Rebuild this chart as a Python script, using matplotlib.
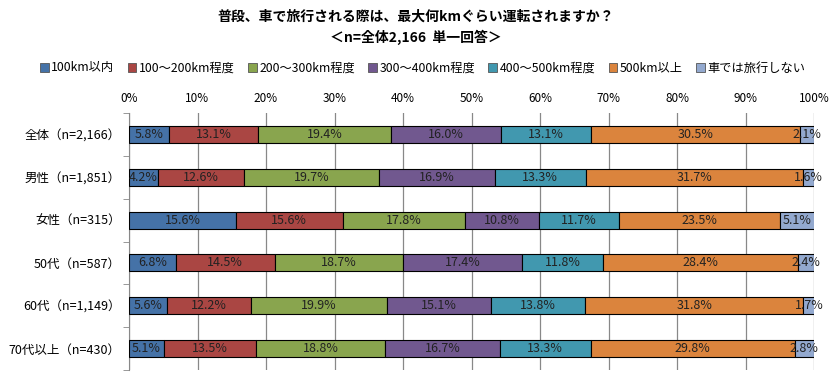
import matplotlib
matplotlib.use("Agg")
import matplotlib.pyplot as plt
from matplotlib.patches import Patch

plt.rcParams['font.family'] = ['Noto Sans CJK JP', 'DejaVu Sans']

# データ
categories = ["全体（n=2,166）", "男性（n=1,851）", "女性（n=315）",
              "50代（n=587）", "60代（n=1,149）", "70代以上（n=430）"]
series_names = ["100km以内", "100～200km程度", "200～300km程度", "300～400km程度",
                "400～500km程度", "500km以上", "車では旅行しない"]
values = [
    [5.8, 4.2, 15.6, 6.8, 5.6, 5.1],
    [13.1, 12.6, 15.6, 14.5, 12.2, 13.5],
    [19.4, 19.7, 17.8, 18.7, 19.9, 18.8],
    [16.0, 16.9, 10.8, 17.4, 15.1, 16.7],
    [13.1, 13.3, 11.7, 11.8, 13.8, 13.3],
    [30.5, 31.7, 23.5, 28.4, 31.8, 29.8],
    [2.1, 1.6, 5.1, 2.4, 1.7, 2.8],
]
colors = ["#4572A7", "#AA4643", "#89A54E", "#71588F", "#4198AF", "#DB843D", "#93A9CF"]

fig = plt.figure(figsize=(8.32, 3.74), dpi=100)
ax = fig.add_axes([129 / 832, 4 / 374, 685 / 832, 257 / 374])

y = list(range(len(categories)))
left = [0.0] * len(categories)
for name, vals, c in zip(series_names, values, colors):
    ax.barh(y, vals, left=left, height=0.4, color=c, edgecolor="black",
            linewidth=0.8, zorder=3)
    for i, v in enumerate(vals):
        ax.text(left[i] + v / 2, y[i], f"{v:.1f}%", ha="center", va="center",
                fontsize=9, color="#222222", zorder=4)
    left = [l + v for l, v in zip(left, vals)]

ax.set_xlim(0, 100)
ax.set_ylim(len(categories) - 0.5, -0.5)
ax.set_xticks(range(0, 101, 10))
ax.set_xticklabels([f"{t}%" for t in range(0, 101, 10)], fontsize=8.5)
ax.xaxis.tick_top()
ax.tick_params(axis="x", length=0, pad=6)
ax.set_yticks(y)
ax.set_yticklabels(categories, fontsize=9)
ax.set_yticks([i - 0.5 for i in range(len(categories) + 1)], minor=True)
ax.tick_params(axis="y", which="major", length=0, pad=6)
ax.tick_params(axis="y", which="minor", length=4, color="#888888")
ax.grid(axis="x", color="#888888", linewidth=0.9, zorder=0)
for s in ["top", "right", "bottom"]:
    ax.spines[s].set_visible(False)
ax.spines["left"].set_color("#888888")

fig.text(0.5, 1 - 17 / 374, "普段、車で旅行される際は、最大何kmぐらい運転されますか？",
         ha="center", va="center", fontsize=10, fontweight="bold")
fig.text(0.5, 1 - 37 / 374, "＜n=全体2,166  単一回答＞",
         ha="center", va="center", fontsize=10, fontweight="bold")

handles = [Patch(facecolor=c, edgecolor="#555555", linewidth=0.6) for c in colors]
fig.legend(handles, series_names, loc="center", bbox_to_anchor=(0.508, 1 - 68 / 374),
           ncol=7, frameon=False, fontsize=8.8, handlelength=0.7, handleheight=0.7,
           handletextpad=0.2, columnspacing=1.1)

fig.savefig("out.png", dpi=100)
